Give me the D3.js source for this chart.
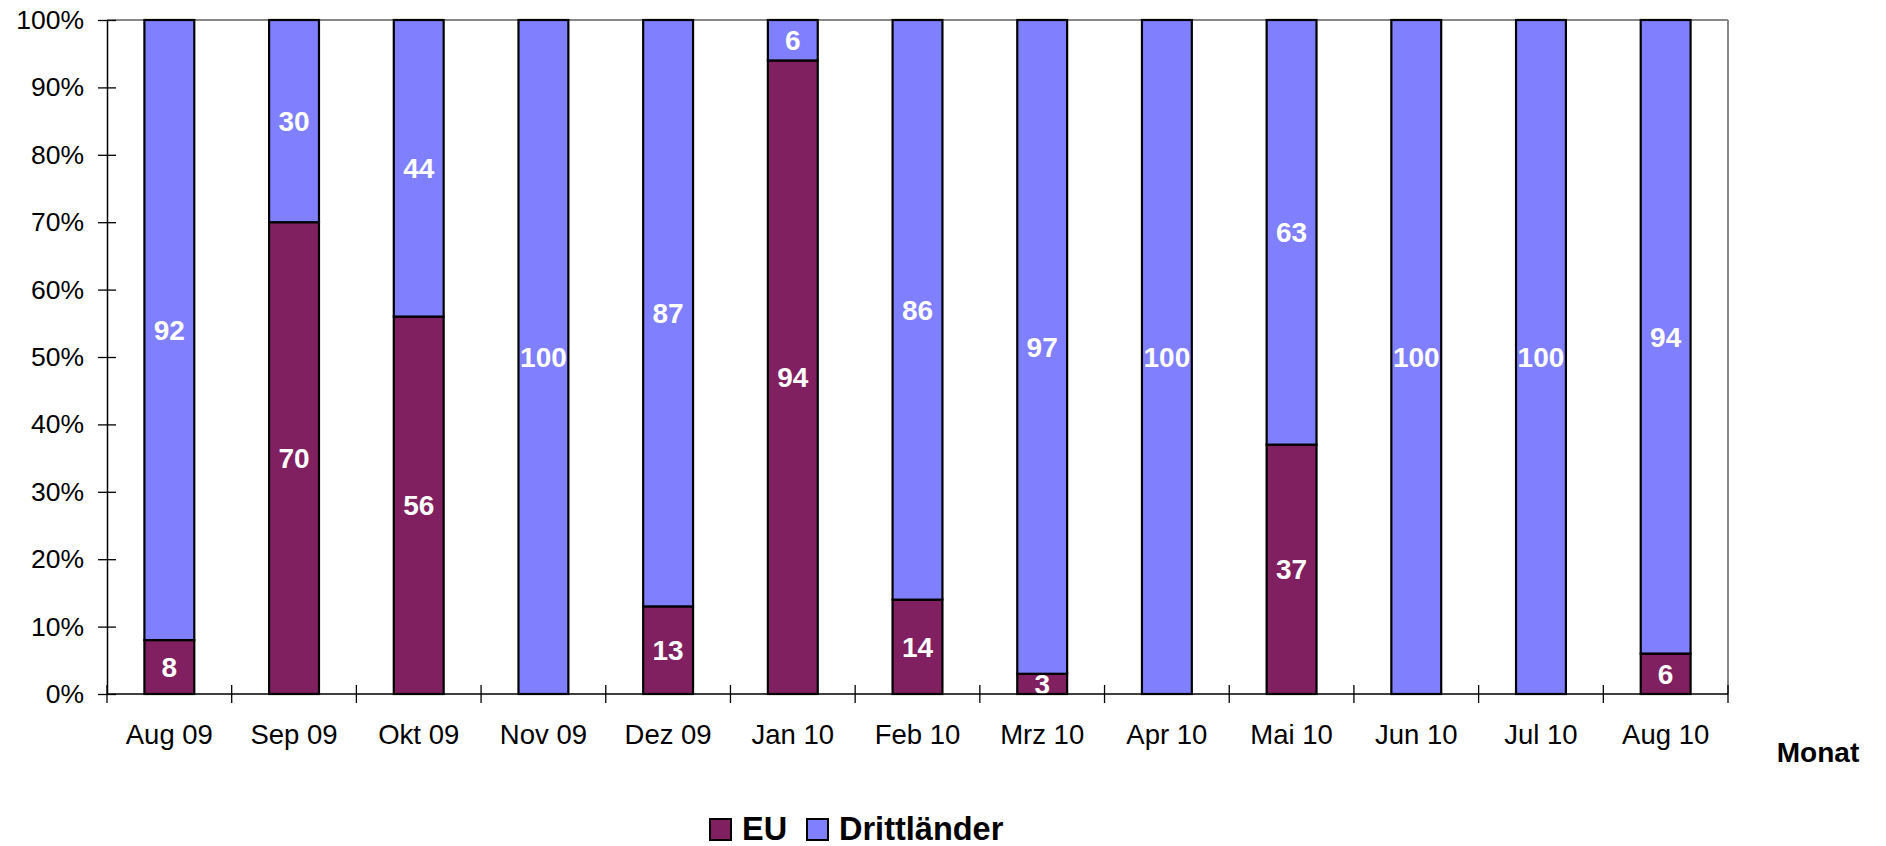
<!DOCTYPE html>
<html>
<head>
<meta charset="utf-8">
<script src="https://cdn.jsdelivr.net/npm/d3@7"></script>
<style>
  body { margin: 0; background: #fff; }
  svg { font-family: "Liberation Sans", Arial, sans-serif; }
</style>
</head>
<body>
<svg id="chart" width="1886" height="846"></svg>
<script>
// months on the x axis
const months = ["Aug 09", "Sep 09", "Okt 09", "Nov 09", "Dez 09", "Jan 10", "Feb 10",
                "Mrz 10", "Apr 10", "Mai 10", "Jun 10", "Jul 10", "Aug 10"];
// percentage shares per month
const euValues = [8, 70, 56, 0, 13, 94, 14, 3, 0, 37, 0, 0, 6];
const drittValues = [92, 30, 44, 100, 87, 6, 86, 97, 100, 63, 100, 100, 94];
const seriesNames = ["EU", "Drittländer"];
const yTicks = [0, 10, 20, 30, 40, 50, 60, 70, 80, 90, 100];

const colors = {"EU": "#802060", "Drittländer": "#8080FF"};

const svg = d3.select("#chart");
const margin = {left: 107, top: 20, right: 158, bottom: 152};
const width = 1886 - margin.left - margin.right;
const height = 846 - margin.top - margin.bottom;

const g = svg.append("g").attr("transform", "translate(" + margin.left + "," + margin.top + ")");

const x = d3.scaleBand().domain(months).range([0, width]).paddingInner(0.6).paddingOuter(0.3);
const xBand = d3.scaleBand().domain(months).range([0, width]); // for tick separators
const y = d3.scaleLinear().domain([0, 100]).range([height, 0]);

// build stacked rows
const rows = months.map((m, i) => ({month: m, "EU": euValues[i], "Drittländer": drittValues[i]}));
const stacked = d3.stack().keys(seriesNames)(rows);

// plot frame: grey top + right
g.append("line").attr("x1", 0).attr("x2", width).attr("y1", 0).attr("y2", 0)
  .attr("stroke", "#888").attr("stroke-width", 2);
g.append("line").attr("x1", width).attr("x2", width).attr("y1", 0).attr("y2", height)
  .attr("stroke", "#888").attr("stroke-width", 2);

// bars
stacked.forEach(layer => {
  g.selectAll(null)
    .data(layer.filter(d => d[1] - d[0] > 0))
    .enter()
    .append("rect")
    .attr("x", d => x(d.data.month))
    .attr("y", d => y(d[1]))
    .attr("width", x.bandwidth())
    .attr("height", d => y(d[0]) - y(d[1]))
    .attr("fill", colors[layer.key])
    .attr("stroke", "#000")
    .attr("stroke-width", 2.2);
});

// value labels
stacked.forEach(layer => {
  g.selectAll(null)
    .data(layer.filter(d => d[1] - d[0] > 0))
    .enter()
    .append("text")
    .attr("x", d => x(d.data.month) + x.bandwidth() / 2)
    .attr("y", d => y((d[0] + d[1]) / 2))
    .attr("dy", "0.36em")
    .attr("text-anchor", "middle")
    .attr("fill", "#fff")
    .attr("font-weight", "bold")
    .attr("font-size", 28)
    .text(d => d[1] - d[0]);
});

// y axis
const yAxis = g.append("g")
  .call(d3.axisLeft(y).tickValues(yTicks).tickFormat(d => d + "%").tickSize(9).tickSizeOuter(0));
yAxis.select(".domain").attr("stroke", "#000").attr("stroke-width", 1.5);
yAxis.selectAll(".tick line").attr("x2", 9).attr("x1", -9).attr("stroke", "#000").attr("stroke-width", 1.3);
yAxis.selectAll(".tick text").attr("x", -23).attr("font-size", 26.5).attr("fill", "#000")
  .attr("font-family", "Liberation Sans, Arial, sans-serif");

// x axis: labels centered, ticks between categories
const xAxis = g.append("g").attr("transform", "translate(0," + height + ")");
xAxis.append("line").attr("x1", 0).attr("x2", width).attr("stroke", "#000").attr("stroke-width", 1.5);
xAxis.selectAll(null)
  .data(months.concat(["end"]))
  .enter()
  .append("line")
  .attr("x1", (d, i) => i < months.length ? xBand(d) : width)
  .attr("x2", (d, i) => i < months.length ? xBand(d) : width)
  .attr("y1", -9).attr("y2", 9)
  .attr("stroke", "#000").attr("stroke-width", 1.3);
xAxis.selectAll(null)
  .data(months)
  .enter()
  .append("text")
  .attr("x", d => xBand(d) + xBand.bandwidth() / 2)
  .attr("y", 50)
  .attr("text-anchor", "middle")
  .attr("font-size", 27.5)
  .text(d => d);

// axis title
svg.append("text")
  .attr("x", 1818).attr("y", 762)
  .attr("text-anchor", "middle")
  .attr("font-weight", "bold")
  .attr("font-size", 28)
  .text("Monat");

// legend
const legend = svg.append("g").attr("transform", "translate(710,819)");
const legendX = [0, 97];
seriesNames.forEach((name, i) => {
  const item = legend.append("g").attr("transform", "translate(" + legendX[i] + ",0)");
  item.append("rect").attr("width", 21).attr("height", 21)
    .attr("fill", colors[name]).attr("stroke", "#000").attr("stroke-width", 2);
  item.append("text").attr("x", 32).attr("y", 21)
    .attr("font-weight", "bold").attr("font-size", 32.5)
    .text(name);
});
</script>
</body>
</html>
